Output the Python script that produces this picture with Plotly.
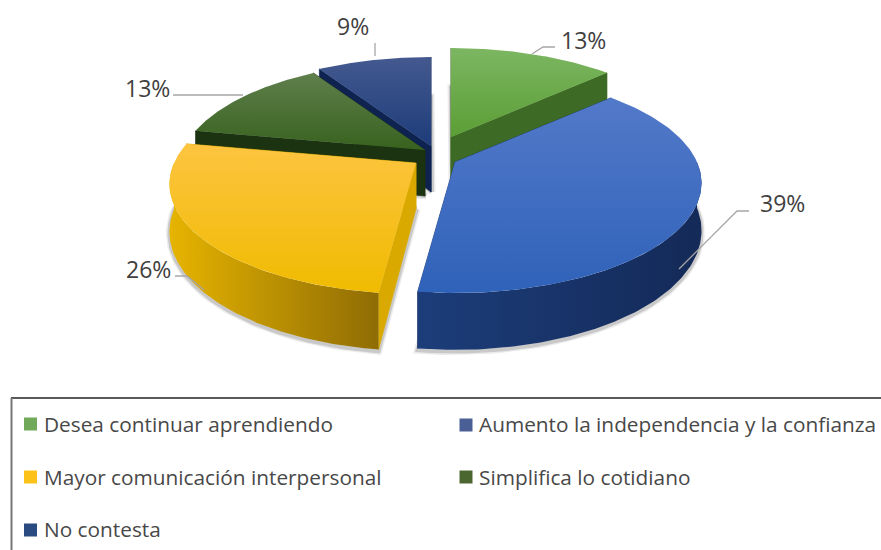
import numpy as np
import plotly.graph_objects as go

categories = ["Desea continuar aprendiendo", "Aumento la independencia y la confianza",
              "Mayor comunicación interpersonal", "Simplifica lo cotidiano", "No contesta"]
values = [13, 39, 26, 13, 9]

tips = [(451, 137), (455, 162), (416, 163), (425, 150), (431, 146)]
# (upper colour, lower colour) of every top face
top_colors = [("#7cb662", "#5b9e35"), ("#5379c9", "#2f62b9"), ("#fdc440", "#f0bb00"),
              ("#5f7f4c", "#38621f"), ("#44598f", "#1d3c7a")]
rim_colors = [("#3f6a24", "#3f6a24"), ("#1c3d7a", "#142a58"), ("#e6b400", "#8f6c05"),
              ("#1c3310", "#1c3310"), ("#12264f", "#12264f")]
cut_colors = ["#3d6a24", "#1b3a72", "#d9a900", "#1b3310", "#0f2350"]
key_colors = ["#70a95a", "#4a5f96", "#fcc21a", "#4c6630", "#2a4a82"]
label_pos = [(583, 40), (782, 203), (148, 269), (147, 88), (353, 26)]
leaders = [[(532, 54), (543, 47), (555, 47)], [(679, 269), (737, 211), (749, 211)],
           [(175, 276), (187, 276), (204, 290)], [(173, 95), (243, 95)], [(375, 56), (375, 43)]]
key_pos = [(30.5, 424), (466, 425), (30.5, 477), (466, 477), (30.5, 530)]
text_pos = [(42, 424), (477, 424), (42, 477), (477, 477), (42, 529)]

R, RY, K, D = 242, 106, 0.191, 46


def proj(tip, deg, h=0.0, r=1.0):
    t = np.radians(deg)
    z = r * np.cos(t)
    w = 1 + K * z
    return tip[0] + R * r * np.sin(t) / w, tip[1] + (-RY * z + D * h) / w


def poly(xs, ys, c0, c1, orient):
    return go.Scatter(x=list(xs) + [xs[0]], y=list(ys) + [ys[0]], mode="lines", fill="toself",
                      line=dict(width=0), hoverinfo="skip", showlegend=False,
                      fillgradient=dict(type=orient, colorscale=[[0, c0], [1, c1]]))


def solid(xs, ys, c):
    return go.Scatter(x=list(xs) + [xs[0]], y=list(ys) + [ys[0]], mode="lines", fill="toself",
                      line=dict(width=0.6, color=c), fillcolor=c, hoverinfo="skip", showlegend=False)


fig = go.Figure()
edges = np.cumsum([0] + values) * 3.6
for i in [4, 0, 3, 2, 1]:
    a0, a1 = edges[i], edges[i + 1]
    tip = tips[i]
    # soft shadow around the underside
    th = np.linspace(a0, a1, 120)
    sx, sy = proj(tip, th, 1.03)
    bx0, by0 = proj(tip, 0, 1.0, 0.0)
    for w, op in [(7, 0.08), (4, 0.14)]:
        fig.add_trace(go.Scatter(x=[bx0 + 1] + list(sx) + [bx0 + 1], y=[by0] + list(sy) + [by0], mode="lines",
                                 line=dict(width=w, color=f"rgba(0,0,0,{op})"),
                                 hoverinfo="skip", showlegend=False))
    # cut faces
    for a in (a0, a1):
        x1, y1 = proj(tip, a, 0)
        x2, y2 = proj(tip, a, 1)
        x0, y0 = proj(tip, a, 0, 0.0)
        x3, y3 = proj(tip, a, 1, 0.0)
        fig.add_trace(solid([x0, x1, x2, x3], [y0, y1, y2, y3], cut_colors[i]))
    # curved wall
    lo, hi = max(a0, 90), min(a1, 270)
    if hi > lo:
        tr = np.linspace(lo, hi, 120)
        xt, yt = proj(tip, tr, 0)
        xb, yb = proj(tip, tr[::-1], 1)
        c_left, c_right = rim_colors[i]
        fig.add_trace(poly(np.r_[xt, xb], np.r_[yt, yb], c_left, c_right, "horizontal"))
    # top face (the y axis is reversed, so the gradient runs lower colour first)
    xa, ya = proj(tip, th, 0)
    fig.add_trace(poly(np.r_[tip[0], xa], np.r_[tip[1], ya], top_colors[i][1], top_colors[i][0], "vertical"))

# leader lines
for pts in leaders:
    fig.add_trace(go.Scatter(x=[p[0] for p in pts], y=[p[1] for p in pts], mode="lines",
                             line=dict(width=1.3, color="#a6a6a6"), hoverinfo="skip", showlegend=False))

# percentage labels
for v, (lx, ly) in zip(values, label_pos):
    fig.add_annotation(x=lx, y=ly, text=f"{v}%", showarrow=False,
                       font=dict(family="Open Sans", size=23, color="#404040"))

# legend box and keys
fig.add_shape(type="line", x0=11, x1=881, y0=398, y1=398, line=dict(color="#222222", width=1.5))
fig.add_shape(type="line", x0=11.5, x1=11.5, y0=398, y1=550, line=dict(color="#777777", width=2))
fig.add_trace(go.Scatter(x=[p[0] for p in key_pos], y=[p[1] for p in key_pos], mode="markers",
                         marker=dict(symbol="square", size=13, color=key_colors, line=dict(width=0)),
                         hoverinfo="skip", showlegend=False))
for c, (tx, ty) in zip(categories, text_pos):
    fig.add_annotation(x=tx, y=ty, text=c, showarrow=False, xanchor="left",
                       font=dict(family="Open Sans", size=20.8, color="#484848"))

fig.update_layout(width=881, height=550, margin=dict(l=0, r=0, t=0, b=0), autosize=False,
                  paper_bgcolor="white", plot_bgcolor="white", showlegend=False,
                  xaxis=dict(range=[0, 881], visible=False, fixedrange=True),
                  yaxis=dict(range=[550, 0], visible=False, fixedrange=True))
fig.write_html("out.html", config=dict(displayModeBar=False),
               post_script="document.body.style.margin='0';document.documentElement.style.overflow='hidden';")
